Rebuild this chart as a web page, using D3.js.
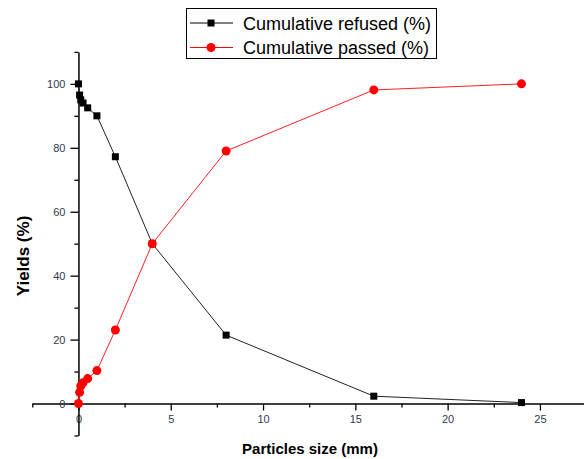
<!DOCTYPE html>
<html>
<head>
<meta charset="utf-8">
<style>
body { margin: 0; background: white; }
svg { display: block; font-family: "Liberation Sans", Arial, sans-serif; }
.tick text { fill: #2f3a4f; font-size: 11px; }
.domain, .tick line { stroke: black; }
</style>
</head>
<body>
<script src="https://cdn.jsdelivr.net/npm/d3@7"></script>
<script>
var width = 584, height = 459;

// sieve sizes (mm) and cumulative yields (%)
var sizes   = [0, 0.063, 0.125, 0.25, 0.5, 1, 2, 4, 8, 16, 24];
var refused = [100, 96.5, 95, 94, 92.5, 90, 77.2, 50, 21.4, 2.3, 0.3];
var passed  = [0, 3.5, 5.5, 6.5, 7.8, 10.3, 23, 50, 79, 98.1, 100];

var xMajor = [0, 5, 10, 15, 20, 25];
var xMinor = [-2.5, 2.5, 7.5, 12.5, 17.5, 22.5, 27.5];
var yMajor = [0, 20, 40, 60, 80, 100];
var yMinor = [-10, 10, 30, 50, 70, 90, 110];

var x = d3.scaleLinear().domain([-2.5, 28]).range([32.3, 595.3]);
var y = d3.scaleLinear().domain([-10, 110]).range([435.5, 51.9]);

var svg = d3.select("body").append("svg")
    .attr("width", width)
    .attr("height", height);

// minor ticks
svg.append("g")
    .attr("transform", "translate(0," + y(0) + ")")
    .call(d3.axisBottom(x).tickValues(xMinor).tickSize(4).tickFormat(""))
    .call(function(g) { g.select(".domain").remove(); })
    .selectAll("line").attr("stroke-width", 1.3);
svg.append("g")
    .attr("transform", "translate(" + x(0) + ",0)")
    .call(d3.axisLeft(y).tickValues(yMinor).tickSize(4).tickFormat(""))
    .call(function(g) { g.select(".domain").remove(); })
    .selectAll("line").attr("stroke-width", 1.3);

// major axes crossing at zero
var xAxis = svg.append("g")
    .attr("transform", "translate(0," + y(0) + ")")
    .call(d3.axisBottom(x).tickValues(xMajor).tickSize(7).tickSizeOuter(0).tickPadding(5));
var yAxis = svg.append("g")
    .attr("transform", "translate(" + x(0) + ",0)")
    .call(d3.axisLeft(y).tickValues(yMajor).tickSize(8).tickSizeOuter(0).tickPadding(5));
svg.selectAll(".domain").attr("stroke-width", 1.5);
xAxis.selectAll(".tick line").attr("stroke-width", 1.3);
yAxis.selectAll(".tick line").attr("stroke-width", 1.3);

// axis titles
svg.append("text")
    .attr("x", 310).attr("y", 454)
    .attr("text-anchor", "middle")
    .style("font-size", "15px").style("font-weight", "bold")
    .text("Particles size (mm)");
svg.append("text")
    .attr("transform", "translate(29,256) rotate(-90)")
    .attr("text-anchor", "middle")
    .style("font-size", "17px").style("font-weight", "bold")
    .text("Yields (%)");

var line = d3.line()
    .x(function(d) { return x(d[0]); })
    .y(function(d) { return y(d[1]); });

var refData = sizes.map(function(s, i) { return [s, refused[i]]; });
var pasData = sizes.map(function(s, i) { return [s, passed[i]]; });

svg.append("path").datum(refData)
    .attr("d", line).attr("fill", "none")
    .attr("stroke", "#222").attr("stroke-width", 1);
svg.append("path").datum(pasData)
    .attr("d", line).attr("fill", "none")
    .attr("stroke", "#ff2020").attr("stroke-width", 1);

svg.selectAll("rect.ref").data(refData).enter()
    .append("rect").attr("class", "ref")
    .attr("x", function(d) { return x(d[0]) - 3.5; })
    .attr("y", function(d) { return y(d[1]) - 3.5; })
    .attr("width", 7).attr("height", 7)
    .attr("fill", "black");
svg.selectAll("circle.pas").data(pasData).enter()
    .append("circle").attr("class", "pas")
    .attr("cx", function(d) { return x(d[0]); })
    .attr("cy", function(d) { return y(d[1]); })
    .attr("r", 4.5)
    .attr("fill", "red");

// legend
var leg = svg.append("g");
leg.append("rect")
    .attr("x", 186.5).attr("y", 8.5)
    .attr("width", 250).attr("height", 50)
    .attr("fill", "white").attr("stroke", "black").attr("stroke-width", 1);
var items = [
  {name: "Cumulative refused (%)", color: "black", shape: "square", y: 23},
  {name: "Cumulative passed (%)", color: "red", shape: "circle", y: 47.5}
];
items.forEach(function(it) {
  leg.append("line")
      .attr("x1", 190).attr("x2", 233)
      .attr("y1", it.y).attr("y2", it.y)
      .attr("stroke", it.color).attr("stroke-width", 1);
  if (it.shape === "square") {
    leg.append("rect").attr("x", 211 - 3.5).attr("y", it.y - 3.5)
        .attr("width", 7).attr("height", 7).attr("fill", it.color);
  } else {
    leg.append("circle").attr("cx", 211).attr("cy", it.y)
        .attr("r", 4.5).attr("fill", it.color);
  }
  leg.append("text")
      .attr("x", 243).attr("y", it.y + 6.5)
      .style("font-size", "18px")
      .attr("fill", "black")
      .text(it.name);
});
</script>
</body>
</html>
